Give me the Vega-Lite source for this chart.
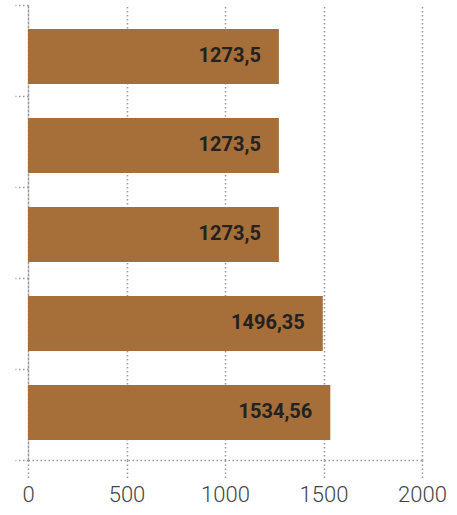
{
  "$schema": "https://vega.github.io/schema/vega-lite/v6.json",
  "autosize": "none",
  "width": 394,
  "height": 455,
  "padding": {"left": 28, "top": 5, "right": 35, "bottom": 55},
  "background": "white",
  "data": {
    "values": [
      {"item": "A", "value": 1273.5},
      {"item": "B", "value": 1273.5},
      {"item": "C", "value": 1273.5},
      {"item": "D", "value": 1496.35},
      {"item": "E", "value": 1534.56}
    ]
  },
  "encoding": {
    "x": {
      "field": "value",
      "type": "quantitative",
      "scale": {"domain": [0, 2000], "nice": false},
      "axis": {
        "title": null,
        "values": [0, 500, 1000, 1500, 2000],
        "format": "d",
        "grid": true,
        "gridColor": "#999",
        "gridDash": [1.5, 2.5],
        "gridWidth": 1.5,
        "domain": true,
        "domainColor": "#999",
        "domainDash": [1.5, 2.5],
        "domainWidth": 1.5,
        "ticks": true,
        "tickSize": 18,
        "tickColor": "#999",
        "tickDash": [1.5, 2.5],
        "tickWidth": 1.5,
        "labelFont": "Roboto",
        "labelFontWeight": 300,
        "labelFontSize": 22,
        "labelColor": "#444",
        "labelPadding": 6,
        "labelFlush": false
      }
    }
  },
  "layer": [
    {
      "mark": {"type": "point", "opacity": 0},
      "encoding": {
        "y": {
          "field": "item",
          "type": "nominal",
          "sort": null,
          "scale": {"type": "band", "paddingInner": 0, "paddingOuter": 0},
          "axis": {
            "orient": "left",
            "title": null,
            "labels": false,
            "tickBand": "extent",
            "grid": false,
            "domain": true,
            "domainColor": "#999",
            "domainDash": [1.5, 2.5],
            "domainWidth": 1.5,
            "ticks": true,
            "tickSize": 13,
            "tickColor": "#999",
            "tickDash": [1.5, 2.5],
            "tickWidth": 1.5
          }
        }
      }
    },
    {
      "encoding": {
        "y": {
          "field": "item",
          "type": "nominal",
          "sort": null,
          "scale": {"paddingInner": 0.382, "paddingOuter": 0.247, "align": 0.545},
          "axis": null
        }
      },
      "layer": [
        {"mark": {"type": "bar", "color": "#A66E38"}},
        {
          "mark": {
            "type": "text",
            "align": "right",
            "baseline": "middle",
            "dx": -18,
            "font": "Roboto",
            "fontWeight": "bold",
            "fontSize": 20,
            "color": "#222"
          },
          "encoding": {
            "text": {"field": "value", "type": "quantitative", "format": "~g"}
          }
        }
      ]
    }
  ],
  "resolve": {"scale": {"y": "independent"}, "axis": {"y": "independent"}},
  "config": {
    "view": {"stroke": null},
    "locale": {
      "number": {
        "decimal": ",",
        "thousands": "",
        "grouping": [3],
        "currency": ["", ""]
      }
    }
  }
}
